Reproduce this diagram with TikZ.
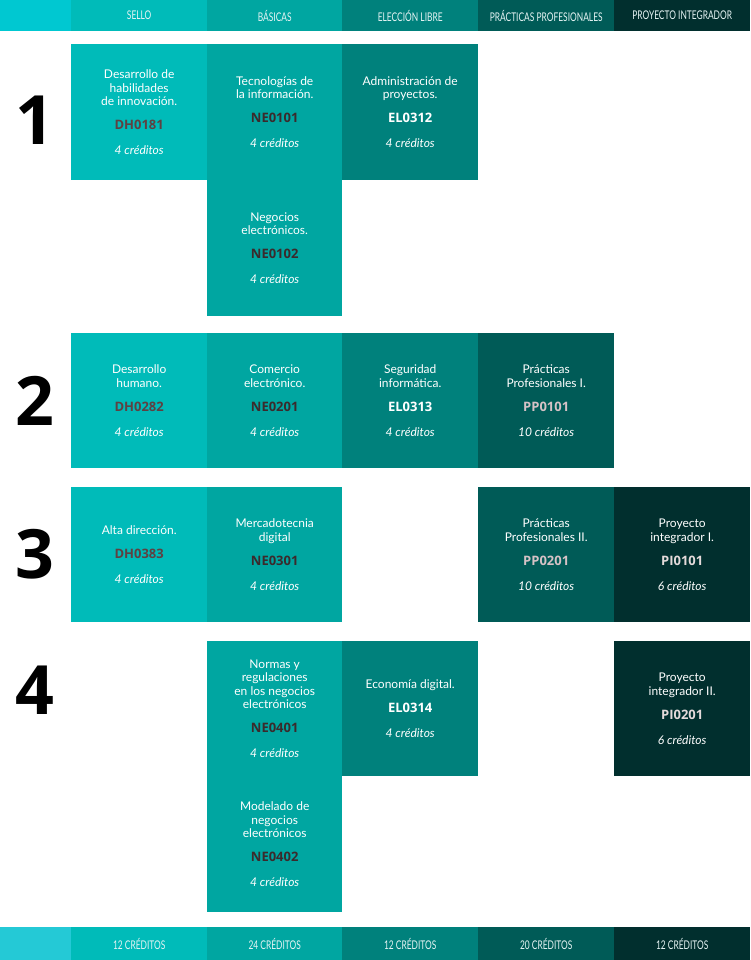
\documentclass[tikz,border=0pt]{standalone}
\usepackage{fontspec}
\usepackage{graphicx}
\setmainfont{Lato}
\newfontfamily\codefont{Open Sans}
\definecolor{cZero}{HTML}{00C8D1}
\definecolor{cZeroF}{HTML}{24C9D6}
\definecolor{cSello}{HTML}{00BBB9}
\definecolor{cBas}{HTML}{00A6A1}
\definecolor{cEl}{HTML}{00817C}
\definecolor{cPP}{HTML}{005B57}
\definecolor{cPI}{HTML}{012F2E}
\definecolor{codeDH}{HTML}{5E4142}
\definecolor{codeNE}{HTML}{3B2A2C}
\definecolor{codePP}{HTML}{D6C2C6}
\definecolor{codePI}{HTML}{E4DADA}
\definecolor{hdrtxt}{HTML}{E6F4F4}
\newcommand\celltxt[4]{#1\\[10.5pt]{\fontsize{13}{13.5}\selectfont\codefont\bfseries\color{#4}#2}\\[11.5pt]{\itshape #3}}
\newcommand\hdrtxt[1]{\scalebox{0.70}[1]{#1}}
\begin{document}
\begin{tikzpicture}[x=1pt,y=-1pt,
  cellbox/.style={anchor=north west, inner sep=0pt, minimum width=136pt, minimum height=136pt,
    align=center, text=white, font=\fontsize{12}{13.5}\selectfont},
  hdr/.style={anchor=north west, inner sep=0pt, minimum height=31pt, minimum width=136pt,
    text=hdrtxt, font=\fontsize{12}{13}\selectfont},
  ftr/.style={hdr, minimum height=33pt},
  numlbl/.style={font=\fontsize{68}{70}\selectfont\codefont\bfseries, text=black, inner sep=0pt}]
\useasboundingbox (0,0) rectangle (750,960);
% header
\node[hdr, fill=cZero, minimum width=71pt] (h0) at (0,0) {};
\node[hdr, fill=cSello] (hsello) at (71,0) {\hdrtxt{SELLO}};
\node[hdr, fill=cBas, minimum width=135pt] (hbas) at (207,0) {\hdrtxt{BÁSICAS}};
\node[hdr, fill=cEl] (hel) at (342,0) {\hdrtxt{ELECCIÓN LIBRE}};
\node[hdr, fill=cPP] (hpp) at (478,0) {\hdrtxt{PRÁCTICAS PROFESIONALES}};
\node[hdr, fill=cPI] (hpi) at (614,0) {\hdrtxt{PROYECTO INTEGRADOR}};
% footer
\node[ftr, fill=cZeroF, minimum width=71pt] (f0) at (0,927) {};
\node[ftr, fill=cSello] (fsello) at (71,927) {\hdrtxt{12 CRÉDITOS}};
\node[ftr, fill=cBas, minimum width=135pt] (fbas) at (207,927) {\hdrtxt{24 CRÉDITOS}};
\node[ftr, fill=cEl] (fel) at (342,927) {\hdrtxt{12 CRÉDITOS}};
\node[ftr, fill=cPP] (fpp) at (478,927) {\hdrtxt{20 CRÉDITOS}};
\node[ftr, fill=cPI] (fpi) at (614,927) {\hdrtxt{12 CRÉDITOS}};
% semester numbers
\node[numlbl] (n1) at (35,120) {1};
\node[numlbl] (n2) at (35,401) {2};
\node[numlbl] (n3) at (35,554) {3};
\node[numlbl] (n4) at (35,690) {4};
% row 1
\node[cellbox, fill=cSello] (dh0181) at (71,44) {\celltxt{Desarrollo de\\habilidades\\de innovación.}{DH0181}{4 créditos}{codeDH}};
\node[cellbox, fill=cBas, minimum width=135pt] (ne0101) at (207,44) {\celltxt{Tecnologías de\\la información.}{NE0101}{4 créditos}{codeNE}};
\node[cellbox, fill=cEl] (el0312) at (342,44) {\celltxt{Administración de\\proyectos.}{EL0312}{4 créditos}{white}};
\node[cellbox, fill=cBas, minimum width=135pt] (ne0102) at (207,180) {\celltxt{Negocios\\electrónicos.}{NE0102}{4 créditos}{codeNE}};
% row 2
\node[cellbox, fill=cSello, minimum height=135pt] (dh0282) at (71,333) {\celltxt{Desarrollo\\humano.}{DH0282}{4 créditos}{codeDH}};
\node[cellbox, fill=cBas, minimum width=135pt, minimum height=135pt] (ne0201) at (207,333) {\celltxt{Comercio\\electrónico.}{NE0201}{4 créditos}{codeNE}};
\node[cellbox, fill=cEl, minimum height=135pt] (el0313) at (342,333) {\celltxt{Seguridad\\informática.}{EL0313}{4 créditos}{white}};
\node[cellbox, fill=cPP, minimum height=135pt] (pp0101) at (478,333) {\celltxt{Prácticas\\Profesionales I.}{PP0101}{10 créditos}{codePP}};
% row 3
\node[cellbox, fill=cSello, minimum height=135pt] (dh0383) at (71,487) {\celltxt{Alta dirección.}{DH0383}{4 créditos}{codeDH}};
\node[cellbox, fill=cBas, minimum width=135pt, minimum height=135pt] (ne0301) at (207,487) {\celltxt{Mercadotecnia\\digital}{NE0301}{4 créditos}{codeNE}};
\node[cellbox, fill=cPP, minimum height=135pt] (pp0201) at (478,487) {\celltxt{Prácticas\\Profesionales II.}{PP0201}{10 créditos}{codePP}};
\node[cellbox, fill=cPI, minimum height=135pt] (pi0101) at (614,487) {\celltxt{Proyecto\\integrador I.}{PI0101}{6 créditos}{codePI}};
% row 4
\node[cellbox, fill=cBas, minimum width=135pt, minimum height=135pt] (ne0401) at (207,641) {\celltxt{Normas y\\regulaciones\\en los negocios\\electrónicos}{NE0401}{4 créditos}{codeNE}};
\node[cellbox, fill=cEl, minimum height=135pt] (el0314) at (342,641) {\celltxt{Economía digital.}{EL0314}{4 créditos}{white}};
\node[cellbox, fill=cPI, minimum height=135pt] (pi0201) at (614,641) {\celltxt{Proyecto\\integrador II.}{PI0201}{6 créditos}{codePI}};
\node[cellbox, fill=cBas, minimum width=135pt] (ne0402) at (207,776) {\celltxt{Modelado de\\negocios\\electrónicos}{NE0402}{4 créditos}{codeNE}};
\end{tikzpicture}
\end{document}
